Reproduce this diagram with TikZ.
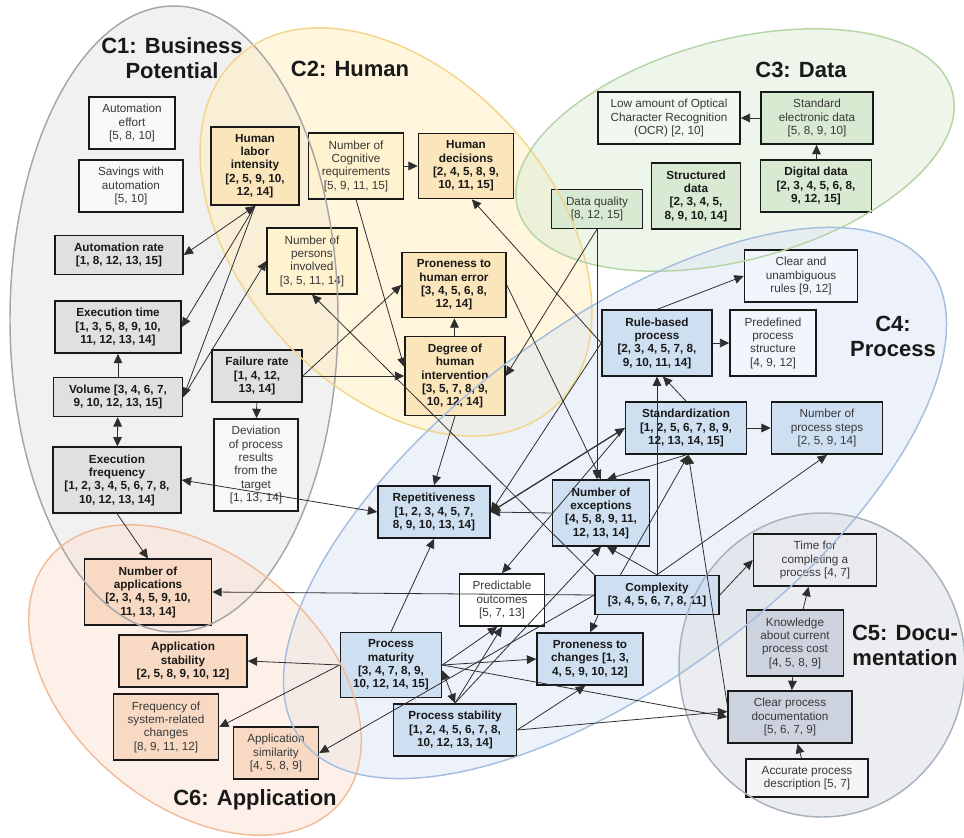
\documentclass[tikz,border=0pt]{standalone}
\usepackage{fontspec}
\setmainfont{Liberation Sans}
\usetikzlibrary{arrows.meta}

\definecolor{c1line}{HTML}{A6A6A6}
\definecolor{c2line}{HTML}{F3D58A}
\definecolor{c3line}{HTML}{B5D5A5}
\definecolor{c4line}{HTML}{A4BEE0}
\definecolor{c5line}{HTML}{A8B0BE}
\definecolor{c6line}{HTML}{F2BC9A}
\definecolor{c1fill}{HTML}{E4E4E4}
\definecolor{c2fill}{HTML}{FFEEBB}
\definecolor{c3fill}{HTML}{DEEBD6}
\definecolor{c4fill}{HTML}{DCE5F5}
\definecolor{c5fill}{HTML}{D8DBE1}
\definecolor{c6fill}{HTML}{FBE2D3}
\definecolor{c1dark}{HTML}{E0E0E0}
\definecolor{c1pale}{HTML}{F8F8F8}
\definecolor{c2dark}{HTML}{FBE5BB}
\definecolor{c2pale}{HTML}{FFF2CF}
\definecolor{c3dark}{HTML}{D8EAD2}
\definecolor{c3pale}{HTML}{F2F7EF}
\definecolor{c4dark}{HTML}{CFDFF2}
\definecolor{c4pale}{HTML}{F1F5FC}
\definecolor{c5dark}{HTML}{CDD3DE}
\definecolor{c5pale}{HTML}{E8EAEF}
\definecolor{c5white}{HTML}{F5F5F5}
\definecolor{c6dark}{HTML}{F8DAC4}

\begin{document}
\begin{tikzpicture}[
    x = 0.75pt, y = -0.75pt,
    > = {Triangle[length=7pt, width=6.5pt]},
    plainbox/.style  = {draw=black!90,
                        line width=1.15pt,
                        align=center,
                        inner xsep=2pt,
                        inner ysep=5.5pt,
                        font=\fontsize{8.8}{10}\selectfont,
                        text=black!78},
    boldbox/.style   = {plainbox,
                        font=\fontsize{8.8}{10}\selectfont\bfseries,
                        text=black!90},
    bw/.style        = {minimum width=#1*0.75pt},
    busbold/.style   = {boldbox, fill=c1dark},
    buswhite/.style  = {plainbox, fill=c1pale},
    humbold/.style   = {boldbox, fill=c2dark},
    humplain/.style  = {plainbox, fill=c2pale},
    datbold/.style   = {boldbox, fill=c3dark},
    datplain/.style  = {plainbox, fill=c3dark},
    datwhite/.style  = {plainbox, fill=c3pale},
    prcbold/.style   = {boldbox, fill=c4dark},
    prcplain/.style  = {plainbox, fill=c4dark},
    prcpale/.style   = {plainbox, fill=c4pale},
    prcwhite/.style  = {plainbox, fill=white},
    docplain/.style  = {plainbox, fill=c5dark},
    docpale/.style   = {plainbox, fill=c5pale},
    docwhite/.style  = {plainbox, fill=c5white},
    appbold/.style   = {boldbox, fill=c6dark},
    appplain/.style  = {plainbox, fill=c6dark},
    area/.style      = {fill opacity=0.5},
    rim/.style       = {line width=1.1pt},
    titlestyle/.style = {font=\fontsize{16.5}{18.8}\selectfont\bfseries,
                         align=center,
                         text=black!90},
    arr/.style       = {->, line width=0.6pt, draw=black!82},
    darr/.style      = {<->, line width=0.6pt, draw=black!82}
]
\useasboundingbox (0,0) rectangle (964,838);

\fill[area, fill=c1fill] (174,319) ellipse [x radius=164, y radius=313];
\fill[area, fill=c2fill, rotate around={-48:(396,232)}] (396,232) ellipse [x radius=236, y radius=156];
\fill[area, fill=c3fill, rotate around={15:(735,150)}] (735,150) ellipse [x radius=225, y radius=110];
\fill[area, fill=c4fill, rotate around={37:(615,503)}] (615,503) ellipse [x radius=393, y radius=177];
\fill[area, fill=c5fill] (822,665) ellipse [x radius=143, y radius=152];
\fill[area, fill=c6fill, rotate around={-40:(195,680)}] (195,680) ellipse [x radius=190, y radius=125];

\node (autoeff) [buswhite, bw=86]  at (132,123) {Automation\\effort\\{}[5, 8, 10]};
\node (savings) [buswhite, bw=104] at (131,186) {Savings with\\automation\\{}[5, 10]};
\node (autrate) [busbold, bw=128]  at (119,255) {Automation rate\\{}[1, 8, 12, 13, 15]};
\node (exetime) [busbold, bw=126]  at (118,327) {Execution time\\{}[1, 3, 5, 8, 9, 10,\\11, 12, 13, 14]};
\node (volume)  [busbold, bw=129]  at (118,397) {Volume [3, 4, 6, 7,\\9, 10, 12, 13, 15]};
\node (exefreq) [busbold, bw=128]  at (117,480) {Execution\\frequency\\{}[1, 2, 3, 4, 5, 6, 7, 8,\\10, 12, 13, 14]};
\node (fail)    [busbold, bw=90]   at (257,376) {Failure rate\\{}[1, 4, 12,\\13, 14]};
\node (dev)     [buswhite, bw=84]  at (256,465) {Deviation\\of process\\results\\from the\\target\\{}[1, 13, 14]};

\node (hli)     [humbold, bw=88]   at (255,166) {Human\\labor\\intensity\\{}[2, 5, 9, 10,\\12, 14]};
\node (ncr)     [humplain, bw=95]  at (356,166) {Number of\\Cognitive\\requirements\\{}[5, 9, 11, 15]};
\node (hd)      [humbold, bw=95]   at (466,166) {Human\\decisions\\{}[2, 4, 5, 8, 9,\\10, 11, 15]};
\node (persons) [humplain, bw=90]  at (312,261) {Number of\\persons\\involved\\{}[3, 5, 11, 14]};
\node (phe)     [humbold, bw=104]  at (454,285) {Proneness to\\human error\\{}[3, 4, 5, 6, 8,\\12, 14]};
\node (dhi)     [humbold, bw=100]  at (455,376) {Degree of\\human\\intervention\\{}[3, 5, 7, 8, 9,\\10, 12, 14]};

\node (ocr)     [datwhite, bw=142] at (669,118) {Low amount of Optical\\Character Recognition\\(OCR) [2, 10]};
\node (sed)     [datplain, bw=112] at (817,118) {Standard\\electronic data\\{}[5, 8, 9, 10]};
\node (dd)      [datbold, bw=111]  at (816,186) {Digital data\\{}[2, 3, 4, 5, 6, 8,\\9, 12, 15]};
\node (sd)      [datbold, bw=89]   at (696,196) {Structured\\data\\{}[2, 3, 4, 5,\\8, 9, 10, 14]};
\node (dq)      [datplain, bw=91]  at (597,209) {Data quality\\{}[8, 12, 15]};

\node (cur)     [prcpale, bw=113]  at (801,276) {Clear and\\unambiguous\\rules [9, 12]};
\node (rb)      [prcbold, bw=110]  at (657,343) {Rule-based\\process\\{}[2, 3, 4, 5, 7, 8,\\9, 10, 11, 14]};
\node (pps)     [prcpale, bw=86]   at (773,343) {Predefined\\process\\structure\\{}[4, 9, 12]};
\node (std)     [prcbold, bw=121]  at (686,428) {Standardization\\{}[1, 2, 5, 6, 7, 8, 9,\\12, 13, 14, 15]};
\node (nps)     [prcplain, bw=111] at (827,428) {Number of\\process steps\\{}[2, 5, 9, 14]};
\node (nexc)    [prcbold, bw=97]   at (601,513) {Number of\\exceptions\\{}[4, 5, 8, 9, 11,\\12, 13, 14]};
\node (rep)     [prcbold, bw=112]  at (434,512) {Repetitiveness\\{}[1, 2, 3, 4, 5, 7,\\8, 9, 10, 13, 14]};
\node (po)      [prcwhite, bw=85]  at (502,600) {Predictable\\outcomes\\{}[5, 7, 13]};
\node (cplx)    [prcbold, bw=124]  at (657,595) {Complexity\\{}[3, 4, 5, 6, 7, 8, 11]};
\node (pm)      [prcbold, bw=101]  at (391,665) {Process\\maturity\\{}[3, 4, 7, 8, 9,\\10, 12, 14, 15]};
\node (ptc)     [prcbold, bw=106]  at (590,659) {Proneness to\\changes [1, 3,\\4, 5, 9, 10, 12]};
\node (ps)      [prcbold, bw=123]  at (455,730) {Process stability\\{}[1, 2, 4, 5, 6, 7, 8,\\10, 12, 13, 14]};

\node (time)    [docpale, bw=123]  at (815,560) {Time for\\completing a\\process [4, 7]};
\node (kn)      [docplain, bw=97]  at (795,643) {Knowledge\\about current\\process cost\\{}[4, 5, 8, 9]};
\node (cpd)     [docplain, bw=124] at (790,717) {Clear process\\documentation\\{}[5, 6, 7, 9]};
\node (apd)     [docwhite, bw=122] at (807,778) {Accurate process\\description [5, 7]};

\node (numapp)  [appbold, bw=127]  at (148,592) {Number of\\applications\\{}[2, 3, 4, 5, 9, 10,\\11, 13, 14]};
\node (appstab) [appbold, bw=128]  at (183,661) {Application\\stability\\{}[2, 5, 8, 9, 10, 12]};
\node (freq)    [appplain, bw=105] at (166,727) {Frequency of\\system-related\\changes\\{}[8, 9, 11, 12]};
\node (appsim)  [appplain, bw=85]  at (276,753) {Application\\similarity\\{}[4, 5, 8, 9]};

\draw[rim, draw=c1line] (174,319) ellipse [x radius=164, y radius=313];
\draw[rim, draw=c2line, rotate around={-48:(396,232)}] (396,232) ellipse [x radius=236, y radius=156];
\draw[rim, draw=c3line, rotate around={15:(735,150)}] (735,150) ellipse [x radius=225, y radius=110];
\draw[rim, draw=c4line, rotate around={37:(615,503)}] (615,503) ellipse [x radius=393, y radius=177];
\draw[rim, draw=c5line] (822,665) ellipse [x radius=143, y radius=152];
\draw[rim, draw=c6line, rotate around={-40:(195,680)}] (195,680) ellipse [x radius=190, y radius=125];

\draw[darr] (hli.south) -- (autrate.east);
\draw[arr] (hli.south) -- (exetime.east);
\draw[arr] (hli.south) -- (volume.east);
\draw[arr] (volume.east) -- (persons.west);
\draw[arr] (volume) -- (exetime);
\draw[darr] (volume) -- (exefreq);
\draw[darr] (exefreq.east) -- (rep.west);
\draw[arr] (exefreq.south) -- (numapp.north);
\draw[arr] (fail.east) -- (dhi.west);
\draw[arr] (fail.east) -- (phe.west);
\draw[arr] (fail) -- (dev);
\draw[arr] (ncr) -- (hd);
\draw[arr] (ncr.south) -- (dhi.170);
\draw[arr] (rb.west) -- (hd.-80);
\draw[arr] (dhi) -- (phe);
\draw[arr] (dhi.south) -- (rep.north);
\draw[arr] (dq.south) -- (dhi.east);
\draw[arr] (dq.south) -- (dq.south |- nexc.north);
\draw[arr] (phe.east) -- (nexc.north);
\draw[arr] (std.south) -- (nexc.80);
\draw[arr] (rb.west) -- (rep.east);
\draw[darr, line width=0.95pt] (std.west) -- (rep.east);
\draw[arr] (nexc.west) -- (rep.east);
\draw[arr] (std.west) -- (po.north);
\draw[arr] (cplx.north) -- (nexc.-80);
\draw[arr] (cplx.north) -- (cplx.north |- rb.south);
\draw[arr] (cplx.151) -- (std.-85);
\draw[arr] (cpd.169) -- (std.-85);
\draw[arr] (cplx.north) -- (nps.south);
\draw[arr] (cplx.west) -- (numapp.east);
\draw[arr] (cplx.west) -- (appsim.east);
\draw[arr] (cplx.north west) -- (persons.south);
\draw[arr] (cplx.-161) -- (ptc.north);
\draw[arr] (cplx.east) -- (time.west);
\draw[arr] (pm.north) -- (rep.south);
\draw[arr] (pm.east) -- (ptc.west);
\draw[arr] (pm.east) -- (cpd.west);
\draw[arr] (pm.east) -- (po.-100);
\draw[darr] (pm.-6) -- (ps.north);
\draw[arr] (ps.north) -- (po.south);
\draw[arr] (ps.north) -- (nexc.south);
\draw[arr] (ps.east) -- (ptc.-100);
\draw[arr] (ps.east) -- (cpd.175);
\draw[arr] (pm.west) -- (appstab.east);
\draw[arr] (pm.west) -- (freq.east);
\draw[arr] (kn) -- (time);
\draw[arr] (kn) -- (cpd);
\draw[arr] (apd) -- (cpd);
\draw[arr] (sed) -- (ocr);
\draw[arr] (dd) -- (sed);
\draw[arr] (rb.north) -- (cur.west);
\draw[arr] (rb) -- (pps);
\draw[arr] (std) -- (nps);
\draw[arr] (std.north) -- (rb.-80);

\node (c1title) [titlestyle] at (172,58)  {C1: Business\\Potential};
\node (c2title) [titlestyle] at (350,69)  {C2: Human};
\node (c3title) [titlestyle] at (801,70)  {C3: Data};
\node (c4title) [titlestyle] at (893,336) {C4:\\Process};
\node (c5title) [titlestyle] at (905,645) {C5: Docu-\\mentation};
\node (c6title) [titlestyle] at (255,800) {C6: Application};

\end{tikzpicture}
\end{document}
